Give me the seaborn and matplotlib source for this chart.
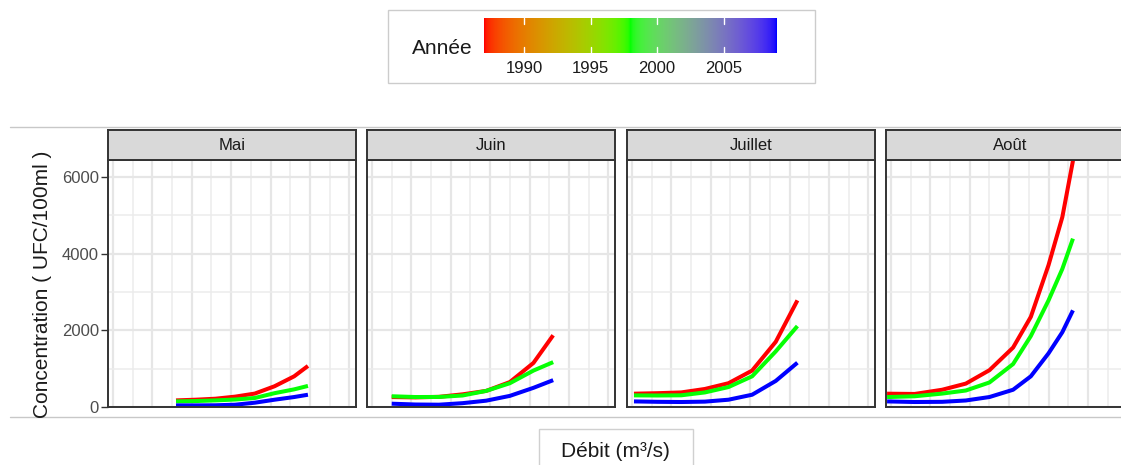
import numpy as np
import pandas as pd
import matplotlib
matplotlib.use("Agg")
import matplotlib.pyplot as plt
import seaborn as sns
from matplotlib.colors import ListedColormap, Normalize, to_rgb
from matplotlib.cm import ScalarMappable
from matplotlib.lines import Line2D
from matplotlib.patches import Rectangle

# ---------------------------------------------------------------- data
mois = ["Mai", "Juin", "Juillet", "Août"]
annees = [1987, 1998, 2009]
cbar_ticks = [1990, 1995, 2000, 2005]

debit_mai = [3.2, 4.2, 5.2, 6.2, 7.2, 8.2, 9.2, 9.9]
mai_1987 = [172, 190, 216, 270, 350, 540, 800, 1070]
mai_1998 = [146, 155, 172, 195, 235, 360, 460, 550]
mai_2009 = [42, 42, 45, 60, 112, 190, 260, 320]

debit_juin = [1.0, 2.2, 3.4, 4.6, 5.8, 7.0, 8.2, 9.2]
juin_1987 = [259, 250, 265, 330, 420, 650, 1150, 1870]
juin_1998 = [280, 260, 262, 300, 420, 620, 950, 1170]
juin_2009 = [86, 65, 60, 100, 165, 290, 500, 700]

debit_juillet = [0.1, 1.3, 2.5, 3.7, 4.9, 6.1, 7.3, 8.4]
juillet_1987 = [347, 360, 380, 470, 620, 950, 1700, 2780]
juillet_1998 = [303, 300, 305, 380, 520, 800, 1450, 2110]
juillet_2009 = [146, 135, 130, 140, 190, 320, 680, 1155]

debit_aout = [-0.2, 1.2, 2.6, 3.8, 5.0, 6.2, 7.1, 8.0, 8.7, 9.24]
aout_1987 = [347, 340, 450, 610, 960, 1550, 2350, 3700, 4950, 6420]
aout_1998 = [259, 280, 350, 430, 640, 1120, 1850, 2780, 3600, 4390]
aout_2009 = [146, 130, 135, 170, 260, 450, 800, 1400, 1950, 2520]

series = {
    "Mai": (debit_mai, [mai_1987, mai_1998, mai_2009]),
    "Juin": (debit_juin, [juin_1987, juin_1998, juin_2009]),
    "Juillet": (debit_juillet, [juillet_1987, juillet_1998, juillet_2009]),
    "Août": (debit_aout, [aout_1987, aout_1998, aout_2009]),
}
rows = []
for m in mois:
    q, curves = series[m]
    for an, c in zip(annees, curves):
        for x, y in zip(q, c):
            rows.append({"mois": m, "debit": x, "annee": an, "concentration": y})
df = pd.DataFrame(rows)

# ------------------------------------------------ red-green-blue ramp in CIELAB
_M = np.array([[0.4124564, 0.3575761, 0.1804375],
               [0.2126729, 0.7151522, 0.0721750],
               [0.0193339, 0.1191920, 0.9503041]])
_Minv = np.linalg.inv(_M)
_white = np.array([0.95047, 1.0, 1.08883])
_d = 6 / 29


def to_lab(rgb):
    c = np.asarray(rgb, float)
    lin = np.where(c <= 0.04045, c / 12.92, ((c + 0.055) / 1.055) ** 2.4)
    xyz = _M @ lin / _white
    f = np.where(xyz > _d ** 3, np.cbrt(xyz), xyz / (3 * _d ** 2) + 4 / 29)
    return np.array([116 * f[1] - 16, 500 * (f[0] - f[1]), 200 * (f[1] - f[2])])


def from_lab(lab):
    L, a, b = lab
    fy = (L + 16) / 116
    f = np.array([fy + a / 500, fy, fy - b / 200])
    xyz = np.where(f > _d, f ** 3, 3 * _d ** 2 * (f - 4 / 29)) * _white
    lin = np.clip(_Minv @ xyz, 0, 1)
    c = np.where(lin <= 0.0031308, 12.92 * lin, 1.055 * lin ** (1 / 2.4) - 0.055)
    return np.clip(c, 0, 1)


stops = [to_lab(to_rgb(c)) for c in ("red", "#00ff00", "blue")]
ramp = []
for t in np.linspace(0, 1, 512):
    if t <= 0.5:
        s = t / 0.5
        lab = stops[0] * (1 - s) + stops[1] * s
    else:
        s = (t - 0.5) / 0.5
        lab = stops[1] * (1 - s) + stops[2] * s
    ramp.append(from_lab(lab))
cmap = ListedColormap(ramp)
norm = Normalize(min(annees), max(annees))
palette = {an: cmap(norm(an)) for an in annees}

# ---------------------------------------------------------------- figure
sns.set_theme(style="whitegrid")
plt.rcParams["font.family"] = ["Liberation Sans", "DejaVu Sans"]

W, H = 1121, 465
fig = plt.figure(figsize=(W / 100, H / 100), dpi=100)
fig.patch.set_facecolor("white")


def px_axes(l, t, r, b):
    return fig.add_axes([l / W, 1 - b / H, (r - l) / W, (b - t) / H])


# framing rules
for yy in (127, 417):
    fig.add_artist(Line2D([10 / W, 1], [1 - yy / H] * 2, color="#C8C8C8", lw=1.0,
                          zorder=-2))

# legend box with colour bar
fig.add_artist(Rectangle((388 / W, 1 - 83 / H), (815 - 388) / W, (83 - 10) / H,
                         transform=fig.transFigure, facecolor="white",
                         edgecolor="#CCCCCC", lw=1.0, zorder=-1))
cax = px_axes(484, 18, 777, 53)
cb = fig.colorbar(ScalarMappable(norm=norm, cmap=cmap), cax=cax, orientation="horizontal")
cb.outline.set_visible(False)
cax.set_xticks(cbar_ticks)
cax.set_xticklabels([str(t) for t in cbar_ticks])
cax.tick_params(axis="x", length=0, labelsize=12, labelcolor="#1A1A1A", pad=6)
cax.grid(False)
# white notches at the top and bottom edges of the bar
for t in cbar_ticks:
    for y0, y1 in ((0.0, 0.18), (0.82, 1.0)):
        cax.plot([t, t], [y0, y1], color="white", lw=1.0, zorder=5,
                 transform=cax.get_xaxis_transform())
fig.text(412 / W, 1 - 54.5 / H, "Année", ha="left", va="baseline",
         fontsize=15, color="#1A1A1A")

# facet panels
lefts = [108, 367, 627, 886]
pw = 248
for i, (m, l) in enumerate(zip(mois, lefts)):
    ax = px_axes(l, 160, l + pw, 407)
    sub = df[df["mois"] == m]
    sns.lineplot(data=sub, x="debit", y="concentration", hue="annee",
                 palette=palette, estimator=None, sort=False, legend=False,
                 linewidth=2.9, ax=ax, solid_capstyle="butt")
    ax.set_xlim(-0.254, 12.34)
    ax.set_ylim(0, 6440)
    ax.set_xticks(range(0, 13, 2))
    ax.set_xticks(range(1, 13, 2), minor=True)
    ax.set_yticks([0, 2000, 4000, 6000])
    ax.set_yticks([1000, 3000, 5000], minor=True)
    ax.grid(which="major", color="#E6E6E6", lw=1.6)
    ax.grid(which="minor", color="#ECECEC", lw=1.1)
    ax.set_axisbelow(True)
    ax.set_facecolor("white")
    ax.set_xlabel("")
    ax.set_ylabel("")
    ax.tick_params(axis="x", which="both", length=0, labelbottom=False)
    if i == 0:
        ax.tick_params(axis="y", which="major", length=5, width=1, color="#333333",
                       left=True, labelsize=12, labelcolor="#4D4D4D", pad=1.5)
        ax.tick_params(axis="y", which="minor", length=0)
    else:
        ax.tick_params(axis="y", which="both", length=0, labelleft=False)
    for sp in ax.spines.values():
        sp.set_color("#333333")
        sp.set_linewidth(1.4)
        sp.set_visible(True)

    sax = px_axes(l, 130, l + pw, 160)
    sax.set_facecolor("#D9D9D9")
    sax.set_xticks([])
    sax.set_yticks([])
    sax.grid(False)
    for sp in sax.spines.values():
        sp.set_color("#333333")
        sp.set_linewidth(1.4)
        sp.set_visible(True)
    sax.text(0.5, 0.5, m, transform=sax.transAxes, ha="center", va="center",
             fontsize=12, color="#1A1A1A")

# axis titles
fig.text(43 / W, 1 - 284 / H, "Concentration ( UFC/100ml )", rotation=90,
         ha="center", va="center", fontsize=15, color="#1A1A1A")
fig.add_artist(Rectangle((539 / W, -0.05), (693 - 539) / W, (465 - 429) / H + 0.05,
                         transform=fig.transFigure, facecolor="white",
                         edgecolor="#D0D0D0", lw=1.0, zorder=-1))
fig.text(615 / W, 1 - 456.7 / H, "Débit (m³/s)", ha="center", va="baseline",
         fontsize=15, color="#1A1A1A")

fig.savefig("out.png", dpi=100)
